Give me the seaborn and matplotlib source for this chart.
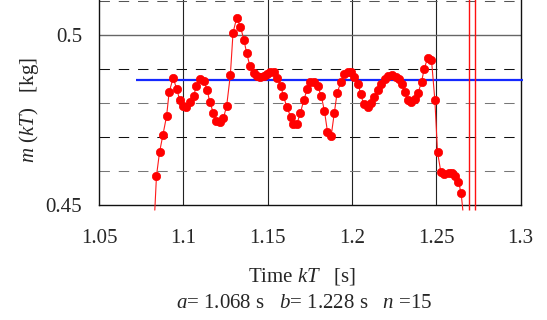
import numpy as np
import pandas as pd
import matplotlib
matplotlib.use('Agg')
import matplotlib.pyplot as plt
import seaborn as sns

# --- dados ---
tempo = [1.0831, 1.0841, 1.0859, 1.0879, 1.0901, 1.0916, 1.0940, 1.0960, 1.0979, 1.0999,
         1.1017, 1.1039, 1.1062, 1.1078, 1.1098, 1.1121, 1.1141, 1.1157, 1.1179, 1.1196,
         1.1216, 1.1238, 1.1257, 1.1279, 1.1295, 1.1317, 1.1339, 1.1360, 1.1376, 1.1395,
         1.1417, 1.1439, 1.1457, 1.1476, 1.1496, 1.1514, 1.1536, 1.1557, 1.1579, 1.1593,
         1.1614, 1.1636, 1.1652, 1.1673, 1.1694, 1.1715, 1.1735, 1.1753, 1.1776, 1.1796,
         1.1818, 1.1837, 1.1855, 1.1877, 1.1896, 1.1912, 1.1934, 1.1956, 1.1979, 1.1997,
         1.2015, 1.2037, 1.2052, 1.2070, 1.2094, 1.2115, 1.2133, 1.2153, 1.2175, 1.2194,
         1.2216, 1.2236, 1.2259, 1.2279, 1.2295, 1.2312, 1.2333, 1.2352, 1.2374, 1.2392,
         1.2413, 1.2429, 1.2449, 1.2472, 1.2492, 1.2508, 1.2528, 1.2547, 1.2573, 1.2591,
         1.2611, 1.2632, 1.2648, 1.2658]
massa = [0.4485, 0.4586, 0.4655, 0.4706, 0.4762, 0.4832, 0.4874, 0.4842, 0.4809, 0.4791,
         0.4789, 0.4804, 0.4822, 0.4851, 0.4870, 0.4865, 0.4839, 0.4803, 0.4770, 0.4748,
         0.4744, 0.4756, 0.4791, 0.4882, 0.5007, 0.5051, 0.5024, 0.4985, 0.4946, 0.4909,
         0.4887, 0.4879, 0.4877, 0.4880, 0.4885, 0.4891, 0.4891, 0.4874, 0.4850, 0.4821,
         0.4789, 0.4760, 0.4738, 0.4738, 0.4770, 0.4809, 0.4841, 0.4861, 0.4863, 0.4850,
         0.4821, 0.4777, 0.4716, 0.4703, 0.4772, 0.4829, 0.4861, 0.4884, 0.4891, 0.4890,
         0.4876, 0.4856, 0.4826, 0.4796, 0.4787, 0.4799, 0.4817, 0.4838, 0.4856, 0.4871,
         0.4879, 0.4882, 0.4877, 0.4871, 0.4856, 0.4832, 0.4809, 0.4804, 0.4812, 0.4829,
         0.4862, 0.4901, 0.4932, 0.4927, 0.4809, 0.4655, 0.4596, 0.4590, 0.4593, 0.4593,
         0.4585, 0.4569, 0.4534, 0.4485]

media = 0.48676            # linha azul
media_inicio, media_fim = 1.0719, 1.3017
marcas_verticais = [1.2695, 1.2731]

xticks = [1.05, 1.1, 1.15, 1.2, 1.25, 1.3]
xtick_labels = ['1.05', '1.1', '1.15', '1.2', '1.25', '1.3']
yticks = [0.45, 0.5]
ytick_labels = ['0.45', '0.5']

df = pd.DataFrame({'tempo': tempo, 'massa': massa})

# --- estilo ---
sns.set_style('white')
plt.rcParams['font.family'] = ['Liberation Serif', 'DejaVu Serif']
plt.rcParams['mathtext.fontset'] = 'custom'
plt.rcParams['mathtext.rm'] = 'Liberation Serif'
plt.rcParams['mathtext.it'] = 'Liberation Serif:italic'
FS = 15

fig = plt.figure(figsize=(5.47, 3.2), dpi=100)
ax = fig.add_axes([99 / 547, 115 / 320, 421.5 / 547, 210.8 / 320])
ax.set_xlim(1.05, 1.3)
ax.set_ylim(0.45, 0.512)

# grade
for xv in [1.1, 1.15, 1.2, 1.25]:
    ax.axvline(xv, color='#222222', lw=0.8, zorder=1)
ax.axhline(0.5, color='#666666', lw=1.0, zorder=1)
for yv, cor in [(0.46, '#777777'), (0.47, '#111111'), (0.48, '#777777'),
                (0.49, '#111111'), (0.51, '#555555')]:
    ax.axhline(yv, color=cor, lw=0.75, ls=(0, (10, 8.5)), zorder=1)

# linha média (azul)
ax.hlines(media, media_inicio, media_fim, color='#1428ff', lw=1.6, zorder=3, clip_on=False)

# linhas verticais vermelhas
ax.vlines(marcas_verticais, 0.4485, 0.512, color='#ff1010', lw=1.0, zorder=3, clip_on=False)

# série medida
sns.lineplot(data=df, x='tempo', y='massa', ax=ax, color='#ff1a1a', lw=0.8,
             marker='o', markersize=6, markerfacecolor='#ff0000', markeredgecolor='#ff0000',
             markeredgewidth=0.5, markevery=slice(1, -1), sort=False, zorder=4, clip_on=False)

for s in ['left', 'bottom', 'right', 'top']:
    ax.spines[s].set_color('#111111')
    ax.spines[s].set_linewidth(1.0)

ax.set_xticks(xticks)
ax.set_xticklabels(xtick_labels, fontsize=FS)
ax.set_yticks(yticks)
ax.set_yticklabels(ytick_labels, fontsize=FS)
ax.tick_params(axis='both', length=0)
ax.tick_params(axis='x', pad=17)
ax.tick_params(axis='y', pad=12)

ax.set_xlabel('Time $kT$   [s]', fontsize=FS, va='baseline')
ax.xaxis.set_label_coords(0.4816, -0.364)
ax.set_ylabel('$m$ ($kT$)   [kg]', fontsize=FS, va='center')
ax.yaxis.set_label_coords(-0.167, 0.45)

fig.text(304 / 547, 1 - 307.7 / 320, '$a$= 1.068 s   $b$= 1.228 s   $n$ =15',
         fontsize=FS, ha='center', va='baseline')

fig.savefig('out.png', dpi=100)
